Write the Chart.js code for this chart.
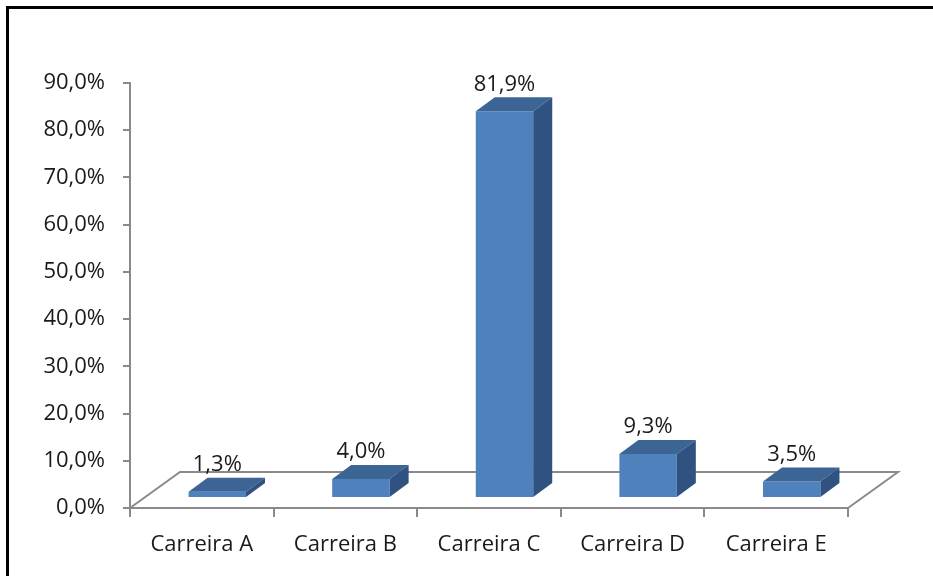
<!DOCTYPE html>
<html>
<head>
<meta charset="utf-8">
<script src="https://cdn.jsdelivr.net/npm/chart.js@4"></script>
<style>
  html, body { margin: 0; padding: 0; background: #fff; }
  #wrap { position: relative; width: 933px; height: 576px; overflow: hidden; }
  #frame { position: absolute; left: 6px; top: 6px; width: 940px; height: 600px;
           border-left: 3px solid #000; border-top: 3px solid #000; pointer-events: none; }
  canvas { position: absolute; left: 0; top: 0; }
</style>
</head>
<body>
<div id="wrap">
  <canvas id="careerChart" width="933" height="576"></canvas>
  <div id="frame"></div>
</div>
<script>
const categories = ['Carreira A', 'Carreira B', 'Carreira C', 'Carreira D', 'Carreira E'];
const shares = [1.3, 4.0, 81.9, 9.3, 3.5];
const yTicks = [0, 10, 20, 30, 40, 50, 60, 70, 80, 90];

const FONT = '"Open Sans", "Noto Sans", sans-serif';
const FRONT = '#4f81bd';
const TOP = '#3c6596';
const SIDE = '#2f5280';
const AXIS = '#8a8a8a';

// 3D look: front face is pushed back into the floor, depth goes up/right
const face = { dx: 15.5, dy: -10 };
const depth = { dx: 19, dy: -14 };
const floor = { dx: 50, dy: -36 };

function pct(v) {
  return v.toFixed(1).replace('.', ',') + '%';
}

const floorPlugin = {
  id: 'floor3d',
  beforeDatasetsDraw(chart) {
    const { ctx, chartArea: a } = chart;
    ctx.save();
    ctx.strokeStyle = AXIS;
    ctx.lineWidth = 2;
    ctx.beginPath();
    ctx.moveTo(a.left, a.bottom);
    ctx.lineTo(a.left + floor.dx, a.bottom + floor.dy);
    ctx.lineTo(a.right + floor.dx, a.bottom + floor.dy);
    ctx.lineTo(a.right, a.bottom);
    ctx.stroke();
    ctx.restore();

    // shift the front faces drawn by the bar controller
    ctx.save();
    ctx.translate(face.dx, face.dy);
  },
  afterDatasetsDraw(chart) {
    const ctx = chart.ctx;
    ctx.restore();

    const meta = chart.getDatasetMeta(0);
    const values = chart.data.datasets[0].data;
    meta.data.forEach((bar, i) => {
      const p = bar.getProps(['x', 'y', 'base', 'width'], true);
      const l = p.x - p.width / 2 + face.dx;
      const r = p.x + p.width / 2 + face.dx;
      const t = p.y + face.dy;
      const b = p.base + face.dy;

      ctx.fillStyle = TOP;
      ctx.beginPath();
      ctx.moveTo(l, t);
      ctx.lineTo(r, t);
      ctx.lineTo(r + depth.dx, t + depth.dy);
      ctx.lineTo(l + depth.dx, t + depth.dy);
      ctx.closePath();
      ctx.fill();

      ctx.fillStyle = SIDE;
      ctx.beginPath();
      ctx.moveTo(r, t);
      ctx.lineTo(r + depth.dx, t + depth.dy);
      ctx.lineTo(r + depth.dx, b + depth.dy);
      ctx.lineTo(r, b);
      ctx.closePath();
      ctx.fill();

      ctx.fillStyle = '#1a1a1a';
      ctx.font = '22px ' + FONT;
      ctx.textAlign = 'center';
      ctx.textBaseline = 'middle';
      ctx.fillText(pct(values[i]), (l + r) / 2, t - 27);
    });
  }
};

new Chart(document.getElementById('careerChart'), {
  type: 'bar',
  data: {
    labels: categories,
    datasets: [{
      data: shares,
      backgroundColor: FRONT,
      borderWidth: 0,
      barPercentage: 0.4,
      categoryPercentage: 1
    }]
  },
  options: {
    responsive: false,
    animation: false,
    devicePixelRatio: 1,
    layout: { padding: { left: 0, top: 83, right: 85, bottom: 0 } },
    plugins: { legend: { display: false }, tooltip: { enabled: false } },
    scales: {
      x: {
        grid: { display: true, drawOnChartArea: false, offset: true, tickLength: 9, color: AXIS, lineWidth: 2 },
        border: { color: AXIS, width: 2 },
        ticks: { color: '#1a1a1a', font: { family: FONT, size: 22 }, padding: 15, maxRotation: 0 },
        afterFit(scale) { scale.height = 68; }
      },
      y: {
        min: 0,
        max: 90,
        afterBuildTicks(scale) { scale.ticks = yTicks.map((v) => ({ value: v })); },
        grid: { display: true, drawOnChartArea: false, tickLength: 7, color: AXIS, lineWidth: 2 },
        border: { color: AXIS, width: 2 },
        ticks: { color: '#1a1a1a', font: { family: FONT, size: 22 }, padding: 18, callback: (v) => pct(v) },
        afterFit(scale) { scale.width = 130; }
      }
    }
  },
  plugins: [floorPlugin]
});
</script>
</body>
</html>
